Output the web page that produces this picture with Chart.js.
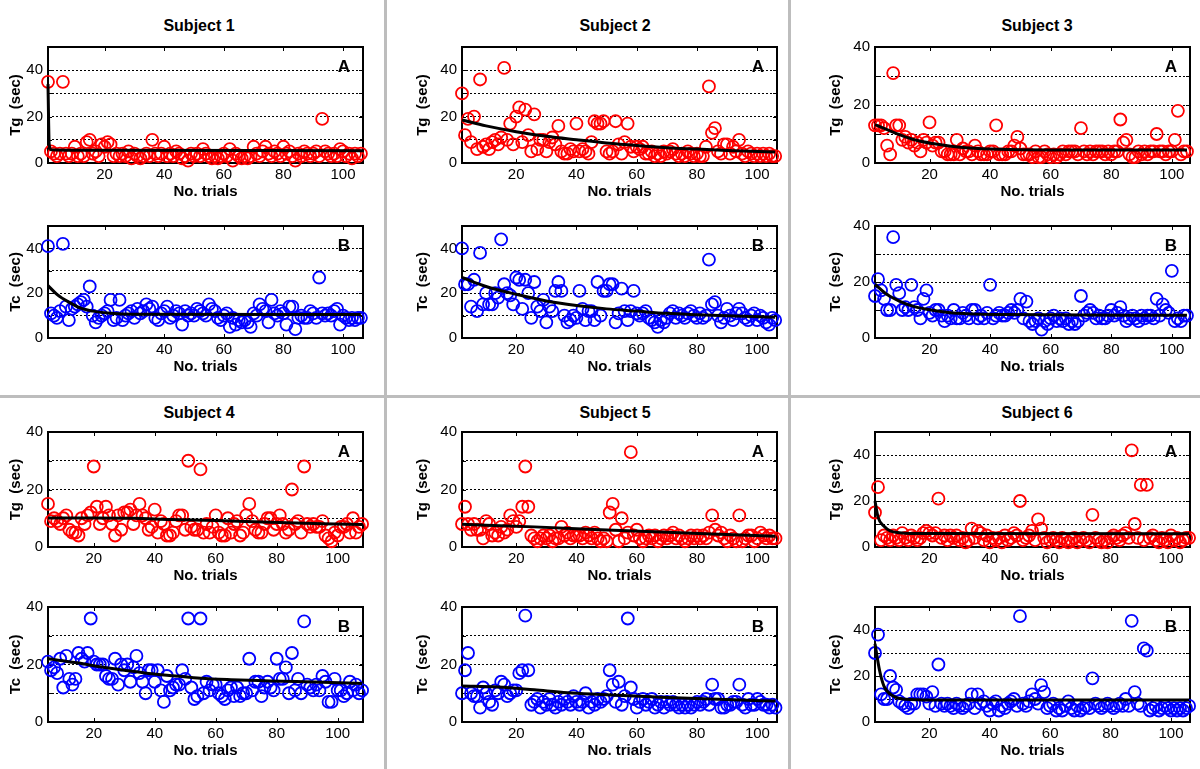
<!DOCTYPE html>
<html lang="en">
<head>
<meta charset="UTF-8">
<title>Tg / Tc per trial, subjects 1-6</title>
<script src="https://cdn.jsdelivr.net/npm/chart.js"></script>
<style>
  body { margin: 0; background: #fff; font-family: 'Liberation Sans', Arial, Helvetica, sans-serif; }
  #page { position: relative; width: 1200px; height: 769px; overflow: hidden; background: #fff; }
  #page canvas { position: absolute; }
  .subject { position: absolute; width: 240px; margin-left: -120px; height: 20px; line-height: 20px;
             text-align: center; font-weight: bold; font-size: 16px; color: #000; }
  .vline { position: absolute; top: 0; height: 769px; width: 3px; background: #bdbdbd; }
  .hline { position: absolute; left: 0; width: 1200px; height: 3px; background: #bdbdbd; }
</style>
</head>
<body>
<div id="page">
  <div class="vline" style="left:384px"></div>
  <div class="vline" style="left:788px"></div>
  <div class="hline" style="top:395px"></div>
</div>

<script>
// ---- data ----
const subjectNames = ['Subject 1', 'Subject 2', 'Subject 3', 'Subject 4', 'Subject 5', 'Subject 6'];
const firstTrial = [1, 2, 2, 5, 2, 2];
const xMin = [1, 2, 2, 5, 2, 2];
const xMax = [106.7, 106.6, 106, 108.3, 106.5, 106.3];
const yMaxTg = [50, 50, 40, 40, 40, 50];
const yMaxTc = [50, 50, 40, 40, 40, 50];
const xTickValues = [20, 40, 60, 80, 100];

const s1Tg = [35,5,4,3,4,35,4,3,4,7, 3,4,3,9,10,4,5,3,8,7, 9,8,3,4,3,4,3,5,2,4, 3,2,3,4,3,10,4,3,4,7,
  3,4,3,5,4,2,3,1,4,3, 4,3,6,4,3,2,3,2,3,4, 3,6,1,4,3,2,3,2,3,7, 4,3,5,7,4,3,5,4,3,7,
  4,5,3,1,4,3,5,4,3,4, 5,3,19,5,4,3,4,3,6,5, 3,4,2,4,3,4];
const s1Tc = [41,11,10,9,12,42,14,8,13,14, 15,16,17,14,23,10,7,9,10,11, 12,17,8,9,17,8,10,11,12,9,
  13,11,12,15,13,14,9,8,11,12, 14,9,10,12,11,6,12,10,11,10, 13,12,11,10,15,13,12,9,8,10,
  11,5,9,6,8,7,8,7,5,11, 10,15,13,12,7,17,11,10,12,11, 6,14,14,4,9,10,9,9,12,11,
  9,27,11,10,11,10,12,13,6,10, 9,8,9,8,9,9];
const s2Tg = [30,12,19,9,20,6,36,7,8,6, 9,10,8,11,41,10,17,8,20,24, 9,23,12,5,21,6,10,10,5,9,
  11,8,16,5,4,4,6,5,17,5, 6,5,4,9,18,17,17,18,5,4, 5,18,8,4,9,17,7,5,7,6,
  7,4,4,5,3,4,3,5,4,5, 6,4,3,4,3,5,4,3,4,3, 3,7,33,13,15,5,4,8,8,4,
  7,5,10,4,3,5,4,3,4,3, 4,3,4,3,3];
const s2Tc = [40,24,24,14,26,12,38,15,20,15, 15,20,18,44,24,20,19,15,27,26, 13,26,20,9,25,14,12,17,7,14,
  12,21,25,21,10,7,8,10,9,21, 13,8,12,12,8,25,10,21,21,24, 24,7,11,22,12,8,12,21,11,10,
  11,12,9,8,7,5,8,7,9,11, 12,9,11,10,9,11,12,10,9,11, 9,10,35,15,16,10,7,9,13,10,
  8,11,13,11,9,8,10,11,8,10, 9,7,6,9,8];
const s3Tg = [13,13,13,12,6,3,31,13,13,8, 9,7,8,6,7,4,8,7,14,6, 7,7,4,4,3,3,3,8,3,5,
  4,4,3,6,4,3,3,3,4,4, 13,3,3,3,4,4,6,9,5,3, 3,3,2,4,2,2,4,3,2,3,
  2,3,4,3,4,4,4,3,12,4, 3,4,3,4,4,4,3,4,3,4, 4,15,7,8,3,2,2,4,3,4,
  3,4,4,10,4,4,3,4,4,8, 18,3,4,4];
const s3Tc = [15,21,17,14,10,10,36,19,16,10, 11,10,19,11,10,7,14,17,9,8, 10,10,8,6,8,7,10,7,7,9,
  8,7,10,10,7,8,7,9,19,7, 8,9,8,8,9,10,9,10,14,7, 13,6,5,6,7,3,6,5,7,8,
  6,7,6,7,5,6,5,6,15,8, 9,10,9,7,8,7,7,8,10,8, 9,11,8,6,7,8,7,6,8,7,
  8,8,7,14,8,12,10,9,24,6, 7,6,8,8];
const s4Tg = [15,9,10,9,8,10,11,6,5,5, 4,10,8,11,12,28,14,8,10,14, 11,8,4,11,6,12,12,13,8,11,
  15,11,10,6,7,13,5,9,8,4, 4,5,9,11,11,6,30,7,6,6, 27,5,8,5,7,11,5,4,4,10,
  5,8,9,4,5,11,15,9,6,5, 5,8,10,10,6,8,11,8,5,6, 20,8,9,5,28,8,7,8,7,7,
  9,4,3,2,5,4,7,7,8,5, 10,5,7,8];
const s4Tc = [21,18,19,17,22,12,23,15,13,15, 24,22,21,24,36,21,20,20,20,16, 15,15,22,13,20,18,20,14,19,23,
  17,14,10,18,18,14,18,11,7,16, 11,12,13,13,18,15,36,12,8,9, 36,10,14,11,13,13,10,9,8,11,
  12,9,12,9,10,10,22,11,14,14, 9,12,14,12,11,22,15,15,19,10, 24,11,15,10,35,13,12,11,13,11,
  16,14,7,7,15,11,11,9,10,14, 11,13,10,11];
const s5Tg = [8,14,8,6,8,6,6,3,9,8, 4,5,4,7,5,6,11,9,7,9, 14,28,14,4,3,2,3,4,3,4,
  2,3,3,7,4,5,3,4,4,4, 3,5,4,3,5,3,2,3,2,12, 15,6,2,10,3,5,33,4,6,3,
  2,3,4,3,4,2,3,4,3,4, 5,3,4,3,2,3,4,3,4,3, 4,3,5,11,6,4,5,3,2,4,
  3,2,11,2,3,4,4,2,3,5, 4,3,4,3,3];
const s5Tc = [10,18,24,10,9,9,5,12,10,7, 6,11,10,14,13,9,10,11,11,17, 18,37,18,6,7,8,5,7,6,8,
  6,5,7,6,8,7,6,9,7,6, 7,10,5,7,6,8,7,8,9,18, 13,7,14,6,9,36,12,8,5,7,
  8,6,7,8,5,6,7,5,7,6, 7,6,5,6,5,6,5,6,7,6, 7,8,6,13,8,8,5,5,6,6,
  7,7,13,6,5,8,6,6,8,7, 6,6,5,6,5];
const s6Tg = [15,26,3,5,4,3,5,4,3,6, 4,3,5,4,3,4,6,7,6,5, 6,21,4,5,3,5,4,5,3,4,
  2,3,8,4,7,6,3,5,2,4, 3,4,2,5,3,4,6,5,20,3, 4,5,7,3,12,8,4,2,3,4,
  3,2,4,3,2,3,4,2,3,4, 3,2,14,4,3,2,3,2,4,5, 4,3,5,6,4,42,10,4,27,3,
  27,4,5,3,2,4,3,2,5,3, 4,2,3,4,4];
const s6Tc = [30,38,12,10,10,20,15,14,9,8, 7,6,8,8,12,12,12,11,8,13, 7,25,8,7,8,7,6,8,7,6,
  7,8,12,6,12,8,9,7,5,8, 9,5,7,6,8,9,10,7,46,8, 7,9,12,10,8,16,13,6,7,8,
  5,6,5,7,9,6,5,7,5,6, 7,6,19,8,7,6,7,8,7,6, 7,8,7,10,7,44,13,8,7,32,
  31,5,6,7,5,6,7,6,5,6, 5,6,5,6,7];

// fitted curves, [trial, seconds]
const s1TgFit = [[1,34],[1.4,8],[2,5.7],[10,5.5],[106.7,5.3]];
const s1TcFit = [[1,23.4],[4,19.5],[8,16],[12,13.3],[16,12],[22,11],[30,10.6],[106,10.5]];
const s2TgFit = [[2,18.5],[10,16],[20,13.5],[30,11.5],[40,10],[50,8.6],[60,7.5],[70,6.6],[80,6],[90,5.4],[106,4.7]];
const s2TcFit = [[2,27],[10,23],[20,19.5],[30,16.5],[40,14.5],[50,13],[60,12],[70,11],[80,10.4],[90,9.9],[106,9.3]];
const s3TgFit = [[2,13.2],[6,11.5],[10,9.8],[15,8],[21,6.7],[27,5.8],[32,5.3],[43,4.7],[60,4.5],[105,4.5]];
const s3TcFit = [[2,19.2],[6,15.5],[10,13.2],[15,11.2],[21,9.9],[27,9],[32,8.7],[45,8.4],[105,8.1]];
const s4TgFit = [[5,10.1],[20,10.1],[33,10],[45,9.6],[60,9.2],[78,8.6],[95,8.1],[108,7.8]];
const s4TcFit = [[5,22],[15,20.5],[22,19.2],[30,18],[38,16.9],[47,16],[55,15.2],[65,14.7],[78,14.3],[95,13.8],[108,13.4]];
const s5TgFit = [[2,7.9],[26,7],[48,6],[70,5.1],[92,4.3],[106,3.7]];
const s5TcFit = [[2,12.5],[14,12.2],[26,11.2],[37,10.2],[48,9.6],[70,8.5],[92,7.7],[106,7.3]];
const s6TgFit = [[2,20],[3,13],[5,9],[7,7],[10,6.2],[15,5.9],[106,5.8]];
const s6TcFit = [[2,34],[3.5,22.5],[5,15.5],[8,11.3],[12,9.9],[21,9.6],[106,9.6]];

const tgSeries = [s1Tg, s2Tg, s3Tg, s4Tg, s5Tg, s6Tg];
const tcSeries = [s1Tc, s2Tc, s3Tc, s4Tc, s5Tc, s6Tc];
const tgFits = [s1TgFit, s2TgFit, s3TgFit, s4TgFit, s5TgFit, s6TgFit];
const tcFits = [s1TcFit, s2TcFit, s3TcFit, s4TcFit, s5TcFit, s6TcFit];

// ---- layout ----
const FONT = "'Liberation Sans', Arial, Helvetica, sans-serif";
const AXIS_W = 48, AXIS_H = 38, PAD_TOP = 10, PAD_RIGHT = 12;
const colLeft = [48, 462, 875];
const plotW = 315;
const yTitlePad = [7, 0, 0];
const rowTopA = [43, 428], rowHA = [120, 119];
const rowTopB = [222, 603], rowHB = [116, 119];
const titleX = [199, 615, 1037];
const titleY = [26, 413];

const page = document.getElementById('page');

// box, inner ticks and the A/B tag, MATLAB style
const panelFrame = {
  id: 'panelFrame',
  beforeDatasetsDraw(chart) {
    const {ctx, chartArea: a, scales} = chart;
    ctx.save();
    ctx.strokeStyle = '#000';
    ctx.lineWidth = 1;
    ctx.beginPath();
    xTickValues.forEach(v => {
      const px = Math.round(scales.x.getPixelForValue(v)) + 0.5;
      ctx.moveTo(px, a.bottom); ctx.lineTo(px, a.bottom - 4);
      ctx.moveTo(px, a.top); ctx.lineTo(px, a.top + 4);
    });
    for (let v = 10; v < scales.y.max; v += 10) {
      const py = Math.round(scales.y.getPixelForValue(v)) + 0.5;
      ctx.moveTo(a.left, py); ctx.lineTo(a.left + 4, py);
      ctx.moveTo(a.right, py); ctx.lineTo(a.right - 4, py);
    }
    ctx.stroke();
    ctx.lineWidth = 2;
    ctx.strokeRect(a.left, a.top, a.right - a.left, a.bottom - a.top);
    ctx.restore();
  },
  afterDraw(chart, args, opts) {
    const {ctx, chartArea: a} = chart;
    ctx.save();
    ctx.fillStyle = '#000';
    ctx.font = 'bold 17px ' + FONT;
    ctx.textAlign = 'center';
    ctx.textBaseline = 'middle';
    ctx.fillText(opts.letter, a.right - 19, a.top + 20);
    ctx.restore();
  }
};

function makePanel(col, left, top, height, cfg) {
  const canvas = document.createElement('canvas');
  canvas.width = AXIS_W + plotW + PAD_RIGHT;
  canvas.height = PAD_TOP + height + AXIS_H;
  canvas.style.left = (left - AXIS_W) + 'px';
  canvas.style.top = (top - PAD_TOP) + 'px';
  page.appendChild(canvas);

  const pts = cfg.values.map((v, i) => ({x: cfg.start + i, y: v}));
  const fit = cfg.fit.map(p => ({x: p[0], y: p[1]}));
  const yMax = cfg.yMax;

  new Chart(canvas, {
    type: 'scatter',
    data: {
      datasets: [
        { type: 'line', data: fit, borderColor: '#000', borderWidth: 3, pointRadius: 0,
          cubicInterpolationMode: 'monotone', fill: false, clip: false, order: 0 },
        { data: pts, pointStyle: 'circle', pointRadius: 6, borderWidth: 1.8,
          borderColor: cfg.color, backgroundColor: 'rgba(0,0,0,0)', clip: false, order: 1 }
      ]
    },
    options: {
      responsive: false,
      animation: false,
      events: [],
      layout: { padding: { top: PAD_TOP, right: PAD_RIGHT, left: 0, bottom: 0 } },
      plugins: {
        legend: { display: false },
        tooltip: { enabled: false },
        panelFrame: { letter: cfg.letter }
      },
      scales: {
        x: {
          type: 'linear', min: cfg.xMin, max: cfg.xMax,
          afterBuildTicks: s => { s.ticks = xTickValues.map(v => ({value: v})); },
          afterFit: s => { s.height = AXIS_H; },
          grid: { display: false },
          border: { display: false },
          ticks: { color: '#000', font: { family: FONT, size: 15 }, padding: -5, maxRotation: 0, autoSkip: false },
          title: { display: true, text: 'No. trials', color: '#000', padding: 0,
                   font: { family: FONT, size: 15, weight: 'bold' } }
        },
        y: {
          min: 0, max: yMax,
          afterBuildTicks: s => {
            const t = [];
            for (let v = 0; v <= yMax; v += 10) t.push({value: v});
            s.ticks = t;
          },
          afterFit: s => { s.width = AXIS_W; },
          grid: {
            drawTicks: false, lineWidth: 1,
            color: c => (c.tick && c.tick.value > 0 && c.tick.value < yMax) ? '#000' : 'rgba(0,0,0,0)'
          },
          border: { display: false, dash: [2, 2] },
          ticks: { color: '#000', font: { family: FONT, size: 15 }, padding: 5, autoSkip: false,
                   callback: v => (v % 20 === 0 ? v : '') },
          title: { display: true, text: cfg.yTitle, color: '#000', padding: { top: yTitlePad[col], bottom: 0 },
                   font: { family: FONT, size: 15, weight: 'bold' } }
        }
      }
    },
    plugins: [panelFrame]
  });
}

subjectNames.forEach((name, i) => {
  const col = i % 3, row = Math.floor(i / 3);
  const title = document.createElement('div');
  title.className = 'subject';
  title.textContent = name;
  title.style.left = titleX[col] + 'px';
  title.style.top = (titleY[row] - 10) + 'px';
  page.appendChild(title);

  makePanel(col, colLeft[col], rowTopA[row], rowHA[row], {
    values: tgSeries[i], fit: tgFits[i], start: firstTrial[i],
    xMin: xMin[i], xMax: xMax[i], yMax: yMaxTg[i],
    color: '#ff0000', letter: 'A', yTitle: 'Tg  (sec)'
  });
  makePanel(col, colLeft[col], rowTopB[row], rowHB[row], {
    values: tcSeries[i], fit: tcFits[i], start: firstTrial[i],
    xMin: xMin[i], xMax: xMax[i], yMax: yMaxTc[i],
    color: '#0000ff', letter: 'B', yTitle: 'Tc  (sec)'
  });
});
</script>
</body>
</html>
